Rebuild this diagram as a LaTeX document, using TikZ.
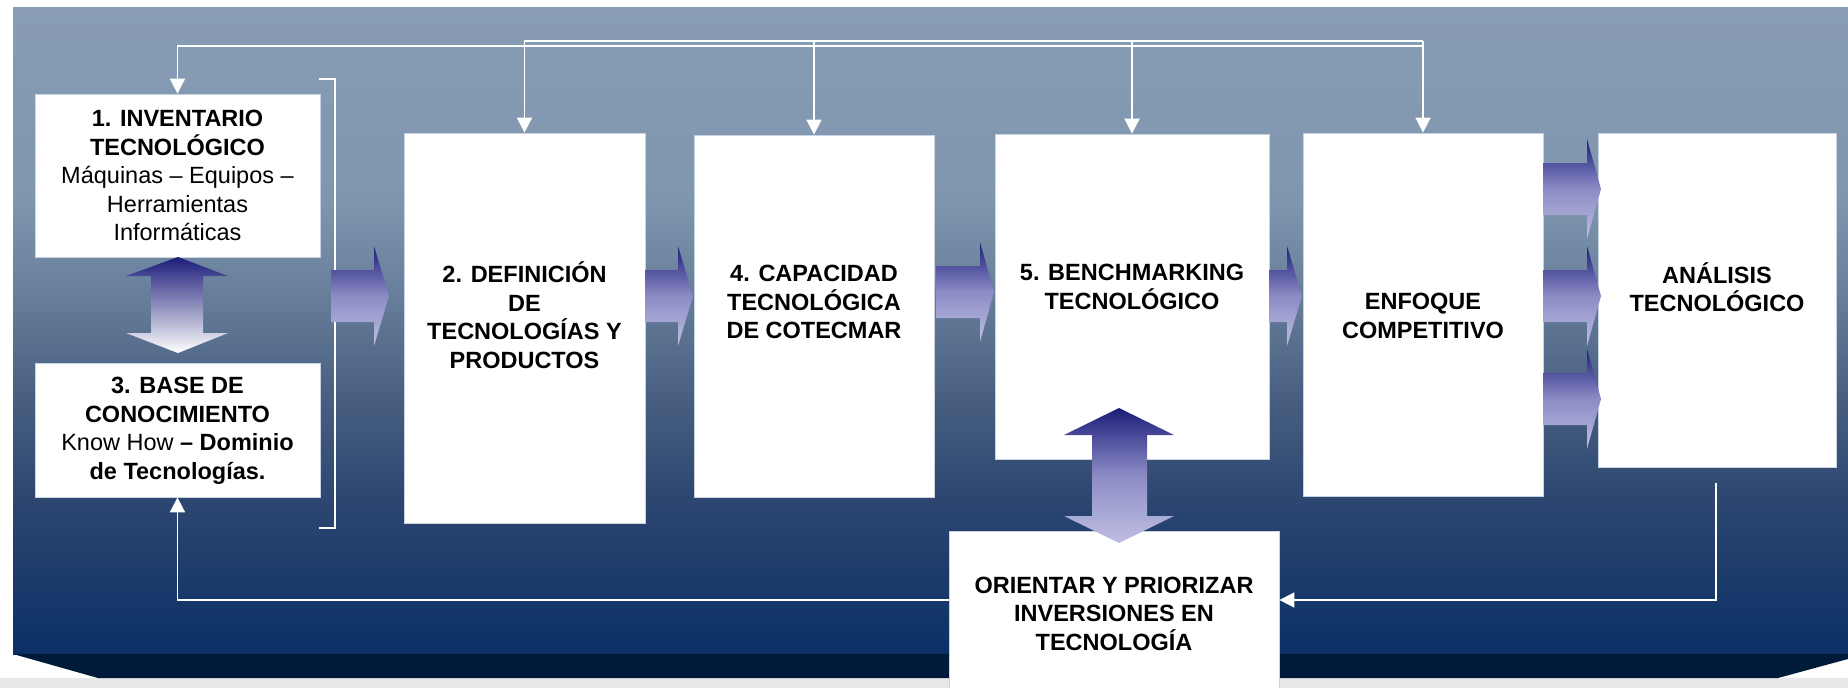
\documentclass[tikz,border=0pt]{standalone}
\usepackage{fontspec}
\setmainfont{Liberation Sans}
\usetikzlibrary{arrows.meta}
\definecolor{pA}{HTML}{889DB5}
\definecolor{pB}{HTML}{7F96AF}
\definecolor{pC}{HTML}{657D99}
\definecolor{pD}{HTML}{475E80}
\definecolor{pE}{HTML}{2C4670}
\definecolor{pF}{HTML}{0B3066}
\definecolor{strip}{HTML}{001B3A}
\definecolor{boxline}{HTML}{C8D2E0}
\definecolor{navy}{HTML}{1C1C7A}
\definecolor{lav}{HTML}{BEBEE2}
\definecolor{lavmid}{HTML}{8C8CC6}
\tikzset{
  box/.style={draw=boxline, line width=0.8pt, fill=white, inner sep=0pt},
  txt/.style={align=center, text=black, font=\fontsize{23.5}{28.5}\selectfont\bfseries},
  conn/.style={draw=white, line width=1.8pt, -{Triangle[width=15pt,length=15pt]}},
  bracketline/.style={draw=white, line width=1.5pt},
  hshade/.style={top color=navy, bottom color=lav, middle color=lavmid},
}
\newcommand\blockR[4]{%
  \shade[hshade] (#1,#4-26) -- (#2,#4-26) -- (#2,#4-50) -- (#3,#4) -- (#2,#4+50)
    -- (#2,#4+26) -- (#1,#4+26) -- cycle;}
\begin{document}
\begin{tikzpicture}[x=1pt,y=-1pt]
\useasboundingbox (0,0) rectangle (1848,688);
\fill[white] (0,0) rectangle (1848,688);
\fill[black!9] (0,678) rectangle (1848,688);
% background panel
\shade[top color=pA, bottom color=pB] (13,7) rectangle (1848,201);
\shade[top color=pB, bottom color=pC] (13,200) rectangle (1848,301);
\shade[top color=pC, bottom color=pD] (13,300) rectangle (1848,401);
\shade[top color=pD, bottom color=pE] (13,400) rectangle (1848,501);
\shade[top color=pE, bottom color=pF] (13,500) rectangle (1848,654);
\fill[strip] (13,654) -- (1848,654) -- (1848,659) -- (1778,678) -- (98,678) -- cycle;

% boxes
\node[box, minimum width=285pt, minimum height=163pt] (b1) at (177.5,175.5) {};
\node[box, minimum width=285pt, minimum height=134pt] (b3) at (177.5,430) {};
\node[box, minimum width=241pt, minimum height=390pt] (b2) at (524.5,328) {};
\node[box, minimum width=240pt, minimum height=362pt] (b4) at (814,316) {};
\node[box, minimum width=274pt, minimum height=325pt] (b5) at (1132,296.5) {};
\node[box, minimum width=240pt, minimum height=363pt] (b6) at (1423,314.5) {};
\node[box, minimum width=238pt, minimum height=334pt] (b7) at (1717,300) {};
\node[box, minimum width=330pt, minimum height=189pt] (b8) at (1114,625.5) {};

% top feedback connectors
\coordinate (busA) at (1423,46);
\coordinate (busB) at (1423,41);
\draw[conn] (busA) -| (b1.north);
\draw[conn] (busB) -| (b2.north);
\draw[conn] (busB -| b4.north) -- (b4.north);
\draw[conn] (busB -| b5.north) -- (b5.north);
\draw[conn] (busB) -- (b6.north);

% bracket
\draw[bracketline] (319,79) -- (335,79) -- (335,528) -- (319,528);

% bottom connectors
\coordinate (r0) at (1716,483);
\draw[conn] (r0) |- ([yshift=25.5pt]b8.east);
\draw[conn] ([yshift=25.5pt]b8.west) -| (b3.south);

% horizontal block arrows
\blockR{331}{374}{389}{296}
\blockR{645}{678}{693}{296}
\blockR{936}{980}{994}{292}
\blockR{1269}{1287}{1302}{296}
\blockR{1543}{1587}{1601}{189}
\blockR{1543}{1587}{1601}{296}
\blockR{1543}{1587}{1601}{399}

% vertical double arrow between 1 and 3
\shade[top color=navy, bottom color=white] (178,257) -- (228,276) -- (203,276) -- (203,333)
  -- (228,333) -- (178,353) -- (126,333) -- (151,333) -- (151,276) -- (126,276) -- cycle;
% vertical double arrow between 5 and orientar
\shade[top color=navy, bottom color=lav, middle color=lavmid] (1119,408) -- (1174,435) -- (1147,435) -- (1147,516)
  -- (1174,516) -- (1119,543) -- (1064,516) -- (1092,516) -- (1092,435) -- (1064,435) -- cycle;

% texts
\node[txt] (t1) at (177.5,175.5) {1. INVENTARIO\\TECNOLÓGICO\\{\mdseries Máquinas – Equipos –}\\{\mdseries Herramientas}\\{\mdseries Informáticas}};
\node[txt] (t3) at (177.5,431) {3. BASE DE\\CONOCIMIENTO\\{\mdseries Know How} – Dominio\\de Tecnologías.};
\node[txt] (t2) at (524.5,315) {2. DEFINICIÓN\\DE\\TECNOLOGÍAS Y\\PRODUCTOS};
\node[txt] (t4) at (814,302) {4. CAPACIDAD\\TECNOLÓGICA\\DE COTECMAR};
\node[txt] (t5) at (1132,287) {5. BENCHMARKING\\TECNOLÓGICO};
\node[txt] (t6) at (1423,316) {ENFOQUE\\COMPETITIVO};
\node[txt] (t7) at (1717,287) {ANÁLISIS\\TECNOLÓGICO};
\node[txt] (t8) at (1114,613.5) {ORIENTAR Y PRIORIZAR\\INVERSIONES EN\\TECNOLOGÍA};
\end{tikzpicture}
\end{document}
